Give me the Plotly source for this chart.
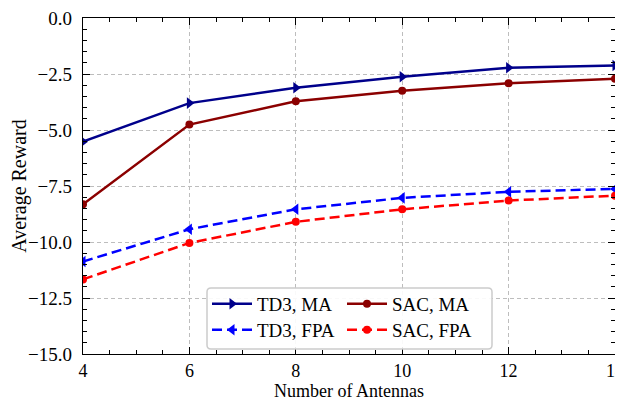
import plotly.graph_objects as go

antennas = [4, 6, 8, 10, 12, 14]
td3_ma = [-5.52, -3.80, -3.11, -2.62, -2.22, -2.12]
sac_ma = [-8.32, -4.76, -3.72, -3.25, -2.91, -2.71]
td3_fpa = [-10.87, -9.43, -8.54, -8.03, -7.76, -7.63]
sac_fpa = [-11.67, -10.04, -9.10, -8.54, -8.15, -7.93]

series_names = ["TD3, MA", "SAC, MA", "TD3, FPA", "SAC, FPA"]
y_ticks = [0, -2.5, -5, -7.5, -10, -12.5, -15]
x_ticks = [4, 6, 8, 10, 12, 14]

FONT = "Liberation Serif, Times New Roman, DejaVu Serif, serif"

fig = go.Figure()
fig.add_trace(go.Scatter(x=antennas, y=td3_ma, name=series_names[0], mode="lines+markers",
                         line=dict(color="#00008B", width=2.5),
                         marker=dict(symbol="triangle-right", size=10, color="#00008B"),
                         legend="legend"))
fig.add_trace(go.Scatter(x=antennas, y=sac_ma, name=series_names[1], mode="lines+markers",
                         line=dict(color="#8B0000", width=2.5),
                         marker=dict(symbol="circle", size=8, color="#8B0000"),
                         legend="legend"))
fig.add_trace(go.Scatter(x=antennas, y=td3_fpa, name=series_names[2], mode="lines+markers",
                         line=dict(color="#0000FF", width=2.5, dash="10px,5px"),
                         marker=dict(symbol="triangle-left", size=10, color="#0000FF"),
                         legend="legend2"))
fig.add_trace(go.Scatter(x=antennas, y=sac_fpa, name=series_names[3], mode="lines+markers",
                         line=dict(color="#FF0000", width=2.5, dash="10px,5px"),
                         marker=dict(symbol="circle", size=8, color="#FF0000"),
                         legend="legend2"))

# plot-area geometry in window pixels (page body adds an 8px offset)
PL, PR, PT, PB = 83, 615, 18, 354
W, H = float(PR - PL), float(PB - PT)

# legend frame (rounded rectangle) in paper coords
x0, x1 = (207 - PL) / W, (492 - PL) / W
y0, y1 = (PB - 349) / H, (PB - 288) / H
rx, ry = 4 / W, 4 / H
path = (f"M{x0+rx},{y0} L{x1-rx},{y0} Q{x1},{y0} {x1},{y0+ry} L{x1},{y1-ry} "
        f"Q{x1},{y1} {x1-rx},{y1} L{x0+rx},{y1} Q{x0},{y1} {x0},{y1-ry} "
        f"L{x0},{y0+ry} Q{x0},{y0} {x0+rx},{y0} Z")
fig.add_shape(type="path", path=path, xref="paper", yref="paper",
              line=dict(color="#cccccc", width=1.5), fillcolor="rgba(255,255,255,0.9)",
              layer="above")

axis_common = dict(
    showline=True, linecolor="black", linewidth=1.3, mirror="allticks",
    ticks="inside", ticklen=7, tickwidth=1.2, tickcolor="black",
    showgrid=True, gridcolor="#bdbdbd", griddash="4px,3px", gridwidth=1,
    zeroline=False, ticklabeloverflow="allow", automargin=False,
)

fig.update_layout(
    width=615, height=395,
    margin=dict(l=PL - 8, r=623 - PR, t=PT - 8, b=403 - PB),
    paper_bgcolor="white", plot_bgcolor="white",
    font=dict(family=FONT, size=19, color="black"),
    xaxis=dict(range=[4, 14], tickvals=x_ticks, ticktext=[str(v) for v in x_ticks],
               tickfont=dict(family=FONT, size=18, color="black"),
               minor=dict(dtick=0.5, ticks="inside", ticklen=4, tickcolor="black", showgrid=False),
               title=dict(text="Number of Antennas", font=dict(family=FONT, size=18), standoff=4),
               ticklabelstandoff=0,
               **axis_common),
    yaxis=dict(range=[-15, 0], tickvals=y_ticks, tickformat=".1f",
               tickfont=dict(family=FONT, size=19, color="black"),
               minor=dict(dtick=0.5, ticks="inside", ticklen=4, tickcolor="black", showgrid=False),
               title=dict(text="Average Reward", font=dict(family=FONT, size=20), standoff=0),
               ticklabelstandoff=6,
               **axis_common),
    legend=dict(orientation="h", x=(207 - PL) / W, xanchor="left", y=(PB - 304) / H, yanchor="middle",
                entrywidth=80, itemwidth=40, bgcolor="rgba(0,0,0,0)", borderwidth=0,
                font=dict(family=FONT, size=19)),
    legend2=dict(orientation="h", x=(207 - PL) / W, xanchor="left", y=(PB - 330) / H, yanchor="middle",
                 entrywidth=80, itemwidth=40, bgcolor="rgba(0,0,0,0)", borderwidth=0,
                 font=dict(family=FONT, size=19)),
    showlegend=True,
)

fig.write_html("out.html")
